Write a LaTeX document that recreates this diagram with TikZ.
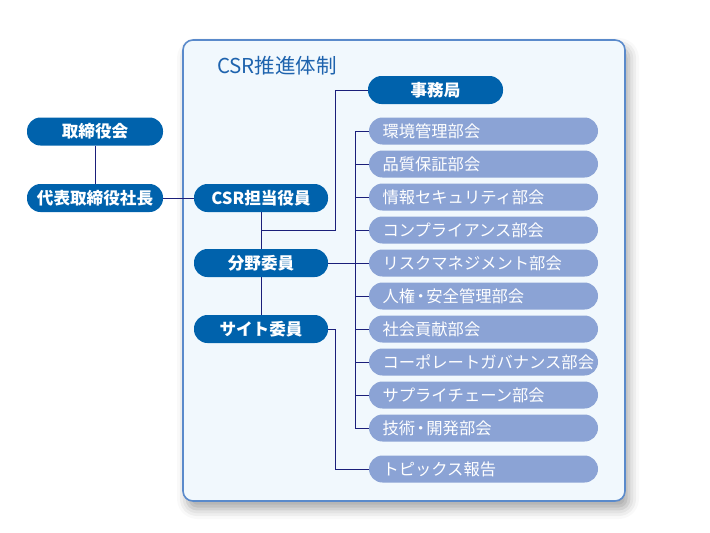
\documentclass[tikz,border=0pt]{standalone}
\usepackage{fontspec}
\setmainfont{Noto Sans CJK JP}
\usetikzlibrary{shadows.blur}
\definecolor{darkblue}{HTML}{0062AC}
\definecolor{lightblue}{HTML}{8BA3D5}
\definecolor{boxline}{HTML}{5A8ACB}
\definecolor{boxfill}{HTML}{F1F8FD}
\definecolor{titlecol}{HTML}{1E63AE}
\definecolor{conncol}{HTML}{1B1F7A}
\newcommand{\kdot}{\kern-2.5pt・\kern-2.5pt}
\tikzset{
  darknode/.style={rectangle, rounded corners=13.5pt, fill=darkblue, text=white,
    minimum height=28pt, inner sep=0pt, font=\fontsize{16.6}{18}\selectfont\bfseries},
  lightnode/.style={rectangle, rounded corners=13.5pt, fill=lightblue, text=white,
    minimum height=27pt, text width=202pt, inner xsep=13.5pt, inner ysep=0pt, align=left,
    font=\fontsize{16.3}{18}\selectfont},
  conn/.style={draw=conncol, line width=0.9pt},
}
\begin{document}
\begin{tikzpicture}[x=1pt,y=-1pt]
\useasboundingbox (0,0) rectangle (710,533);
% container
\path[draw=boxline, fill=boxfill, line width=1.6pt, rounded corners=10pt,
  blur shadow={shadow xshift=4pt, shadow yshift=-8pt, shadow blur radius=10pt, shadow opacity=35}]
  (183,40) rectangle (625,501);
\node[anchor=west, text=titlecol, font=\fontsize{20.5}{22}\selectfont, inner sep=0pt] (title) at (217,66) {CSR推進体制};
% dark nodes
\node[darknode, minimum width=136pt] (tori) at (95,131.5) {取締役会};
\node[darknode, minimum width=136pt] (daihyo) at (95,198) {代表取締役社長};
\node[darknode, minimum width=134pt] (csr) at (261,198) {CSR担当役員};
\node[darknode, minimum width=134pt] (bunya) at (261,263) {分野委員};
\node[darknode, minimum width=134pt] (site) at (261,329) {サイト委員};
\node[darknode, minimum width=135pt] (jimu) at (435.5,90) {事務局};
% light nodes
\node[lightnode] (b1) at (483.5,131) {環境管理部会};
\node[lightnode] (b2) at (483.5,164) {品質保証部会};
\node[lightnode] (b3) at (483.5,197) {情報セキュリティ部会};
\node[lightnode] (b4) at (483.5,230) {コンプライアンス部会};
\node[lightnode] (b5) at (483.5,263) {リスクマネジメント部会};
\node[lightnode] (b6) at (483.5,296) {人権\kdot 安全管理部会};
\node[lightnode] (b7) at (483.5,329) {社会貢献部会};
\node[lightnode] (b8) at (483.5,362) {コーポレートガバナンス部会};
\node[lightnode] (b9) at (483.5,395) {サプライチェーン部会};
\node[lightnode] (b10) at (483.5,428) {技術\kdot 開発部会};
\node[lightnode] (topics) at (483.5,469) {トピックス報告};
% connectors
\draw[conn] (tori) -- (daihyo);
\draw[conn] (daihyo) -- (csr);
\draw[conn] (csr) -- (bunya);
\draw[conn] (bunya) -- (site);
\coordinate (jA) at (261,230);
\coordinate (jB) at (335,230);
\draw[conn] (jA) -- (jB) |- (jimu.west);
\coordinate (busT) at (355,131);
\coordinate (busB) at (355,428);
\draw[conn] (busT) -- (busB);
\draw[conn] (bunya.east) -- (bunya.east -| busT);
\foreach \n in {b1,b2,b3,b4,b5,b6,b7,b8,b9,b10}{
  \draw[conn] (busT |- \n.west) -- (\n.west);
}
\coordinate (sK) at (335,329);
\draw[conn] (site.east) -- (sK) |- (topics.west);
\end{tikzpicture}
\end{document}
